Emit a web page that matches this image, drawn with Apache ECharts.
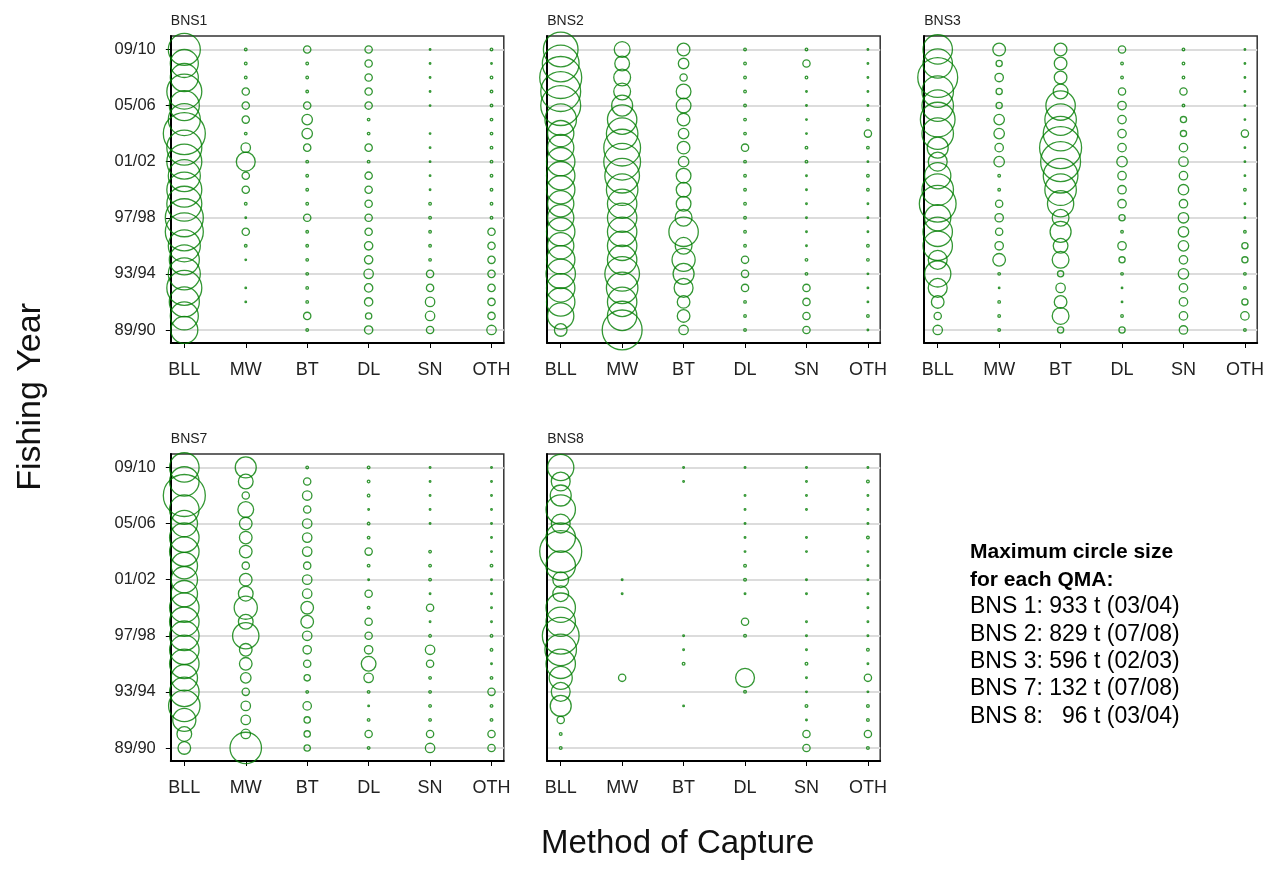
<!DOCTYPE html>
<html><head><meta charset="utf-8">
<script src="https://cdn.jsdelivr.net/npm/echarts@6/dist/echarts.min.js"></script>
<style>html,body{margin:0;padding:0;background:#fff}#c{width:1278px;height:890px}</style>
</head><body><div id="c"></div><script>
const years = ['89/90','90/91','91/92','92/93','93/94','94/95','95/96','96/97','97/98','98/99','99/00','00/01','01/02','02/03','03/04','04/05','05/06','06/07','07/08','08/09','09/10'];
const yearTicks = [0,4,8,12,16,20];
const methods = ['BLL','MW','BT','DL','SN','OTH'];
const panelNames = ['BNS1','BNS2','BNS3','BNS7','BNS8'];
const maxCatch = [933, 829, 596, 132, 96];

// catch (t) by fishing year, 89/90 .. 09/10
const bns1_BLL = [385,415,477,647,542,477,542,764,764,647,647,542,647,647,933,542,477,647,415,415,542];
const bns1_MW  = [0,0,1.3,1.3,0,1.3,3.6,28.6,1.3,3.6,28.6,28.6,189,47,3.6,28.6,28.6,28.6,3.6,3.6,3.6];
const bns1_BT  = [3.6,28.6,3.6,3.6,3.6,3.6,3.6,3.6,28.6,3.6,3.6,3.6,3.6,28.6,58,58,28.6,3.6,3.6,3.6,28.6];
const bns1_DL  = [37,21,37,37,47,37,37,28.6,28.6,28.6,28.6,28.6,3.6,28.6,3.6,3.6,28.6,28.6,28.6,28.6,28.6];
const bns1_SN  = [28.6,47,47,28.6,28.6,3.6,3.6,3.6,3.6,3.6,1.3,1.3,1.3,1.3,1.3,0,1.3,1.3,1.3,1.3,1.3];
const bns1_OTH = [47,28.6,28.6,28.6,28.6,28.6,28.6,28.6,3.6,3.6,3.6,3.6,3.6,3.6,3.6,3.6,3.6,3.6,3.6,1.3,3.6];

const bns2_BLL = [75,324,378,378,406,378,324,378,324,324,378,378,378,324,324,466,748,748,829,635,564];
const bns2_MW  = [748,406,406,466,564,406,406,406,406,406,466,564,635,635,466,406,207,133,133,102,117];
const bns2_BT  = [42,75,75,168,207,251,133,406,133,102,102,102,52,75,52,75,102,102,25,52,75];
const bns2_DL  = [3.2,3.2,3.2,25,25,25,3.2,3.2,3.2,3.2,3.2,3.2,3.2,25,3.2,3.2,3.2,3.2,3.2,3.2,3.2];
const bns2_SN  = [25,25,25,25,3.2,3.2,1.2,1.2,1.2,1.2,1.2,1.2,3.2,3.2,1.2,1.2,1.2,1.2,3.2,25,3.2];
const bns2_OTH = [1.2,3.2,1.2,1.2,1.2,3.2,3.2,1.2,1.2,1.2,3.2,3.2,1.2,3.2,25,3.2,1.2,1.2,1.2,1.2,1.2];

const bns3_BLL = [30,18,54,121,233,121,292,292,233,456,335,233,121,149,335,406,335,335,538,292,292];
const bns3_MW  = [2.3,2.3,2.3,0.8,2.3,54,24,18,24,18,2.3,2.3,37,24,37,37,13,13,24,13,54];
const bns3_BT  = [13,95,54,30,13,95,73,149,95,233,335,406,538,596,406,335,292,73,54,54,54];
const bns3_DL  = [13,2.3,0.8,0.8,2.3,13,24,2.3,13,24,24,24,37,24,24,24,24,18,2.3,2.3,18];
const bns3_SN  = [24,24,24,24,37,24,37,37,37,24,37,24,30,24,13,13,2.3,18,2.3,2.3,2.3];
const bns3_OTH = [2.3,24,13,2.3,2.3,13,13,2.3,0.8,0.8,2.3,0.8,0.8,0.8,18,0.8,0.8,0.8,0.8,0.8,0.8];

const bns7_BLL = [11.9,16.2,40,74,65,52,65,65,65,65,65,52,52,52,65,65,52,65,132,65,65];
const bns7_MW  = [74,6.7,6.7,6.7,4,8.3,11.9,11.9,52,16.2,40,16.2,11.9,4,11.9,11.9,11.9,18.6,4,16.2,33];
const bns7_BT  = [3,3,3,5.3,0.5,3,4,5.3,6.7,11.9,11.9,6.7,6.7,4,6.7,6.7,6.7,4,6.7,4,0.5];
const bns7_DL  = [0.5,4,0.5,0.2,0.5,6.7,16.2,5.3,4,4,0.5,4,0.2,0.5,4,0.5,0.5,0.2,0.5,0.5,0.5];
const bns7_SN  = [6.7,4,0.5,0.5,0.5,0.5,4,6.7,0.5,0.2,4,0.2,0.5,0.5,0.5,0,0.2,0.2,0.2,0.2,0.2];
const bns7_OTH = [4,4,0.5,0.5,4,0.5,0.2,0.5,0.5,0.2,0.2,0.2,0.2,0.5,0.2,0.2,0.2,0.2,0.2,0.2,0.2];

const bns8_BLL = [0.4,0.4,2.9,24,19.4,29,47,54,73.5,47,47,13.5,13.5,47,96,47,19.4,47,24,19.4,37.5];
const bns8_MW  = [0,0,0,0,0,2.9,0,0,0,0,0,0.15,0.15,0,0,0,0,0,0,0,0];
const bns8_BT  = [0,0,0,0.15,0,0,0.4,0.15,0.15,0,0,0,0,0,0,0,0,0,0,0.15,0.15];
const bns8_DL  = [0,0,0,0,0.4,19.4,0,0,0.4,2.9,0,0.15,0.4,0.4,0.15,0.15,0.15,0.15,0.15,0,0.15];
const bns8_SN  = [2.9,2.9,0.15,0.4,0.15,0.15,0.4,0.15,0.15,0.15,0,0.15,0.15,0,0.15,0.15,0,0.15,0.15,0.15,0.15];
const bns8_OTH = [0.4,2.9,0.4,0.4,0.15,2.9,0.15,0.4,0.15,0.15,0.15,0.15,0.15,0.15,0.15,0.4,0.15,0.15,0.15,0.4,0.15];

const legendTitle = ['Maximum circle size','for each QMA:'];
const legendLines = ['BNS 1: 933 t (03/04)','BNS 2: 829 t (07/08)','BNS 3: 596 t (02/03)','BNS 7: 132 t (07/08)','BNS 8:   96 t (03/04)'];

const panelData = [
  [bns1_BLL,bns1_MW,bns1_BT,bns1_DL,bns1_SN,bns1_OTH],
  [bns2_BLL,bns2_MW,bns2_BT,bns2_DL,bns2_SN,bns2_OTH],
  [bns3_BLL,bns3_MW,bns3_BT,bns3_DL,bns3_SN,bns3_OTH],
  [bns7_BLL,bns7_MW,bns7_BT,bns7_DL,bns7_SN,bns7_OTH],
  [bns8_BLL,bns8_MW,bns8_BT,bns8_DL,bns8_SN,bns8_OTH]
];

const FONT = '"Liberation Sans", Arial, sans-serif';
const pos = [[170.8,36],[547.2,36],[924.2,36],[170.8,454],[547.2,454]];
const GW = 333, GH = 307, DMAX = 42;
const showY = [true,false,false,true,false];

const grids = [], xAxes = [], yAxes = [], series = [], graphics = [];
pos.forEach((p, i) => {
  grids.push({left:p[0], top:p[1], width:GW, height:GH, show:true, borderColor:'#333', borderWidth:1.5, backgroundColor:'transparent'});
  xAxes.push({
    type:'value', gridIndex:i, min:-0.22, max:5.2,
    axisLine:{show:true, onZero:false, lineStyle:{color:'#000', width:2}},
    axisTick:{show:true, customValues:[0,1,2,3,4,5], length:5, lineStyle:{color:'#000', width:1}},
    axisLabel:{show:true, customValues:[0,1,2,3,4,5], formatter:v=>methods[Math.round(v)], margin:18,
      fontSize:18, color:'#222', fontFamily:FONT},
    splitLine:{show:false}
  });
  yAxes.push({
    type:'value', gridIndex:i, min:-0.93, max:20.96,
    axisLine:{show:true, onZero:false, lineStyle:{color:'#000', width:2}},
    axisTick:{show:showY[i], customValues:yearTicks, length:5, lineStyle:{color:'#000', width:1}},
    axisLabel:{show:showY[i], customValues:yearTicks, formatter:v=>years[Math.round(v)], margin:15,
      fontSize:16.5, color:'#222', fontFamily:FONT},
    splitLine:{show:true, lineStyle:{color:'#dcdcdc', width:2}}
  });
  const data = [];
  panelData[i].forEach((arr, mi) => arr.forEach((v, yi) => { if (v > 0) data.push([mi, yi, v]); }));
  const mx = maxCatch[i];
  series.push({
    type:'scatter', xAxisIndex:i, yAxisIndex:i, data:data, silent:true,
    symbol:'circle',
    symbolSize: val => Math.max(1.5, DMAX*Math.sqrt(val[2]/mx)),
    itemStyle:{color:'rgba(0,0,0,0)', borderColor:'#007d00', borderWidth:1.3},
    clip:false
  });
  graphics.push({type:'text', left:p[0], top:p[1]-22, style:{text:panelNames[i], font:'14px '+FONT, fill:'#222'}});
});

graphics.push({type:'text', left:14, top:303, rotation:Math.PI/2, style:{text:'Fishing Year', font:'34px '+FONT, fill:'#111'}});
graphics.push({type:'text', left:541, top:827, style:{text:'Method of Capture', font:'33px '+FONT, fill:'#111'}});
legendTitle.forEach((t, k) => {
  graphics.push({type:'text', x:970, y:542 + k*27.3,
    style:{text:t, font:'bold 21px '+FONT, fill:'#000', verticalAlign:'top', align:'left'}});
});
legendLines.forEach((t, k) => {
  graphics.push({type:'text', x:970, y:595.5 + k*27.3,
    style:{text:t, font:'23px '+FONT, fill:'#000', verticalAlign:'top', align:'left'}});
});

const chart = echarts.init(document.getElementById('c'), null, {renderer:'canvas'});
chart.setOption({
  animation:false, backgroundColor:'#fff',
  grid:grids, xAxis:xAxes, yAxis:yAxes, series:series, graphic:graphics
});
</script></body></html>
